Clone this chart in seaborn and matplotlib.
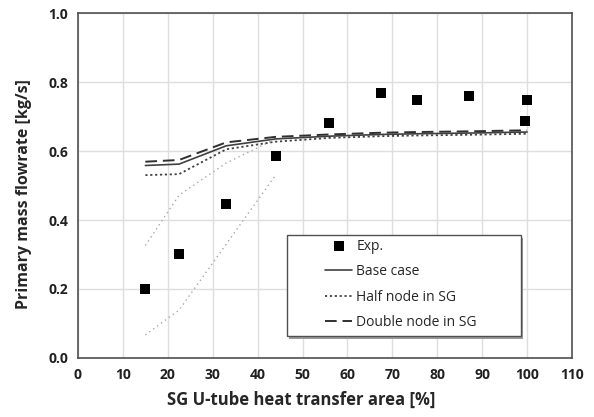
#!/usr/bin/env python3

import pandas as pd
import matplotlib.pyplot as plt
import matplotlib.patches as mpatches
import seaborn as sns
import numpy as np

sns.set_style("whitegrid")
plt.rcParams['font.family'] = ['Open Sans', 'DejaVu Sans']

# Experimental data
exp_area = [15, 22.5, 33, 44, 56, 67.5, 75.5, 87, 100, 99.5]
exp_flow = [0.20, 0.30, 0.447, 0.586, 0.68, 0.767, 0.748, 0.760, 0.748, 0.687]

# Simulation results
sim_area = [15, 22.5, 33, 44, 56, 67.5, 75.5, 87, 100]
base_case = [0.558, 0.562, 0.615, 0.635, 0.643, 0.648, 0.650, 0.652, 0.655]
half_node = [0.530, 0.533, 0.605, 0.627, 0.638, 0.643, 0.645, 0.647, 0.650]
double_node = [0.569, 0.574, 0.625, 0.641, 0.648, 0.653, 0.655, 0.657, 0.660]

# Uncertainty band of the experiment
band_area = [15, 22.5, 33, 44]
band_upper = [0.326, 0.472, 0.565, 0.635]
band_lower = [0.067, 0.139, 0.330, 0.530]

fig = plt.figure(figsize=(5.94, 4.17), dpi=100)
ax = fig.add_axes([0.1313, 0.1415, 0.8317, 0.8273])

line_col = '#404040'
band_col = '#a8a8a8'

sns.lineplot(x=band_area, y=band_upper, ax=ax, color=band_col, lw=1.0,
             linestyle=(0, (1, 2.5)), legend=False)
sns.lineplot(x=band_area, y=band_lower, ax=ax, color=band_col, lw=1.0,
             linestyle=(0, (1, 2.5)), legend=False)

sns.lineplot(x=sim_area, y=base_case, ax=ax, color=line_col, lw=1.2,
             label='Base case')
sns.lineplot(x=sim_area, y=half_node, ax=ax, color=line_col, lw=1.3,
             linestyle=(0, (1.2, 1.5)), label='Half node in SG')
sns.lineplot(x=sim_area, y=double_node, ax=ax, color='#303030', lw=1.4,
             linestyle=(0, (6, 3)), label='Double node in SG')

sns.scatterplot(x=exp_area, y=exp_flow, ax=ax, marker='s', s=42,
                color='black', edgecolor='black', linewidth=0, label='Exp.',
                zorder=5)

ax.set_xlim(0, 110)
ax.set_ylim(0, 1.0)
ax.set_xticks(np.arange(0, 111, 10))
ax.set_yticks(np.arange(0, 1.01, 0.2))
ax.set_yticklabels([f'{v:.1f}' for v in np.arange(0, 1.01, 0.2)])

ax.grid(True, color='#dedede', lw=1.0)
for s in ax.spines.values():
    s.set_visible(True)
    s.set_color('#505050')
    s.set_linewidth(1.2)

ax.tick_params(axis='both', which='both', length=4, width=0.8,
               color='#b0b0b0', labelsize=10, direction='out', pad=3)
for lbl in ax.get_xticklabels() + ax.get_yticklabels():
    lbl.set_fontweight('bold')
    lbl.set_color('#202020')

ax.set_xlabel('SG U-tube heat transfer area [%]', fontsize=12,
              fontweight='bold')
ax.set_ylabel('Primary mass flowrate [kg/s]', fontsize=11.5,
              fontweight='bold')
ax.xaxis.set_label_coords(0.451, -0.095)
ax.yaxis.set_label_coords(-0.093, 0.474)

# legend box drawn by hand (wide frame with shadow, like the original)
shadow = mpatches.Rectangle((0.427, 0.056), 0.474, 0.293, transform=ax.transAxes,
                            facecolor='#9a9a9a', edgecolor='none', zorder=6)
box = mpatches.Rectangle((0.423, 0.064), 0.474, 0.293, transform=ax.transAxes,
                         facecolor='white', edgecolor='#505050', lw=1.0, zorder=7)
ax.add_patch(shadow)
ax.add_patch(box)

handles, labels = ax.get_legend_handles_labels()
order = [labels.index(l) for l in ['Exp.', 'Base case', 'Half node in SG',
                                   'Double node in SG']]
leg = ax.legend([handles[i] for i in order], [labels[i] for i in order],
                loc='center left', bbox_to_anchor=(0.5, 0.213),
                frameon=False, fontsize=10, handlelength=1.95,
                handletextpad=0.3, borderpad=0, labelspacing=0.75,
                borderaxespad=0)
leg.set_zorder(8)

plt.savefig('out.png', dpi=100)
plt.close()
